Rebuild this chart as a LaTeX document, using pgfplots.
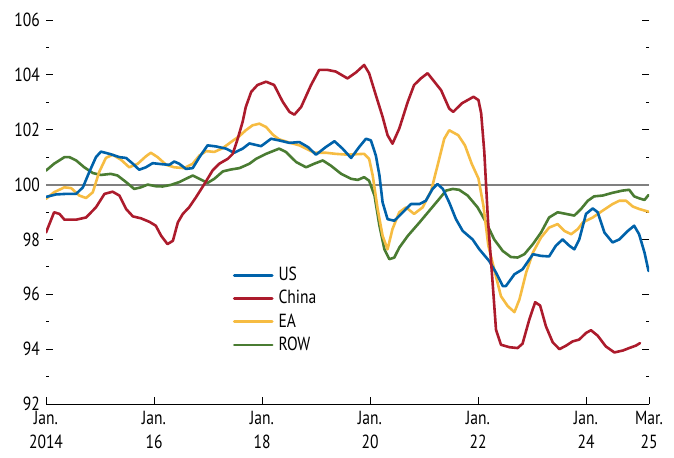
\documentclass[border=0pt]{standalone}
\usepackage{fontspec}
\setmainfont{PT Sans}[FakeStretch=0.82]
\usepackage{pgfplots}
\usepackage{pgfplotstable}
\pgfplotsset{compat=1.18}
\definecolor{usblue}{RGB}{0,98,170}
\definecolor{cnred}{RGB}{172,27,44}
\definecolor{eayellow}{RGB}{246,188,66}
\definecolor{rowgreen}{RGB}{74,124,50}
\definecolor{refgray}{RGB}{128,128,128}

% x = months since Jan. 2014
\pgfplotstableread{
m v
0 99.55
2.2 99.64
4.4 99.66
6.7 99.66
8.2 99.9
9.6 100.45
11.1 101.0
12.2 101.2
14.1 101.12
16.3 101.0
17.8 100.97
19.3 100.76
20.7 100.54
22.2 100.63
23.7 100.78
25.9 100.74
27.4 100.72
28.5 100.84
29.6 100.76
31.1 100.57
32.6 100.6
34.1 101.0
35.9 101.43
37.8 101.39
40.0 101.31
41.8 101.16
43.7 101.31
45.2 101.5
47.8 101.4
50.0 101.67
51.8 101.61
54.1 101.52
56.3 101.55
58.2 101.37
60.0 101.09
62.2 101.37
64.1 101.58
65.9 101.31
67.8 100.97
69.6 101.37
71.1 101.67
72.2 101.61
73.3 101.06
74.1 100.33
74.8 99.35
75.9 98.74
77.4 98.68
79.3 98.99
81.1 99.29
83.0 99.29
84.4 99.41
85.9 99.84
87.0 100.02
88.2 99.84
89.6 99.35
91.1 98.74
92.6 98.31
94.8 98.0
96.3 97.64
98.5 97.21
100.0 96.79
101.5 96.3
102.2 96.3
104.1 96.73
105.9 96.91
108.2 97.46
110.0 97.4
111.8 97.38
113.3 97.77
114.8 98.0
116.3 97.77
117.4 97.64
118.5 98.0
120.0 98.93
121.5 99.13
122.6 98.99
124.1 98.25
125.9 97.89
127.4 98.0
129.3 98.31
130.7 98.5
131.8 98.19
133.0 97.52
133.9 96.85
}\us

\pgfplotstableread{
m v
0 98.25
1.8 98.99
3.0 98.93
4.1 98.72
6.7 98.72
8.9 98.8
11.1 99.17
13.0 99.66
14.8 99.74
16.3 99.6
17.8 99.11
19.3 98.84
21.1 98.77
23.0 98.64
24.4 98.5
25.6 98.13
27.0 97.83
28.2 97.95
29.3 98.62
30.4 98.93
31.8 99.17
33.3 99.53
35.2 100.02
37.0 100.51
38.5 100.76
40.4 100.94
41.5 101.12
42.6 101.67
43.7 102.29
44.4 102.83
45.6 103.38
47.0 103.63
48.9 103.75
50.7 103.63
52.6 103.02
54.1 102.65
55.2 102.55
56.7 102.83
58.9 103.63
60.7 104.18
62.6 104.18
64.4 104.12
67.0 103.87
68.9 104.09
70.7 104.36
71.8 104.06
73.3 103.26
74.8 102.47
75.9 101.8
77.0 101.49
78.5 102.04
80.4 103.02
81.8 103.63
83.3 103.87
84.8 104.06
86.3 103.75
87.8 103.44
89.6 102.77
90.5 102.65
92.4 102.96
95.0 103.2
96.1 103.08
96.7 102.6
97.4 101.19
98.2 98.74
99.3 96.3
100.0 94.71
101.1 94.16
103.0 94.07
104.8 94.04
105.9 94.2
107.4 95.08
108.7 95.71
109.8 95.59
111.1 94.83
112.6 94.25
114.1 94.0
115.6 94.13
117.0 94.28
118.5 94.35
120.0 94.59
121.1 94.69
122.6 94.49
124.4 94.1
126.3 93.88
128.2 93.95
129.6 94.04
131.1 94.13
132.0 94.22
}\china

\pgfplotstableread{
m v
0 99.48
1.8 99.72
4.1 99.9
5.6 99.87
7.4 99.6
8.9 99.51
10.4 99.72
11.8 100.45
13.3 100.97
14.8 101.09
16.7 100.9
18.5 100.63
20.4 100.76
22.2 101.03
23.3 101.16
24.8 101.0
26.7 100.72
28.5 100.63
30.7 100.6
32.6 100.76
34.1 101.06
35.6 101.22
37.4 101.19
39.3 101.33
41.1 101.55
43.0 101.77
44.4 101.98
45.9 102.16
47.4 102.22
48.9 102.1
50.4 101.82
51.8 101.65
54.1 101.53
56.3 101.43
57.8 101.31
59.6 101.16
62.2 101.16
64.4 101.12
67.0 101.09
69.3 101.11
70.7 101.12
71.8 100.94
72.6 100.33
73.7 99.11
74.8 98.13
75.9 97.64
77.0 98.38
78.5 98.99
80.0 99.17
81.8 98.93
83.7 99.17
85.6 99.78
87.0 100.69
88.5 101.67
89.6 101.98
91.6 101.8
93.1 101.43
94.6 100.76
96.1 100.22
97.2 99.23
98.3 97.77
99.6 96.91
101.1 95.93
102.6 95.57
104.1 95.35
105.2 95.81
106.7 96.79
108.2 97.52
110.0 98.07
111.8 98.43
113.7 98.56
115.2 98.31
116.7 98.19
118.2 98.38
119.3 98.62
121.5 98.8
123.7 99.05
125.9 99.29
127.4 99.41
128.9 99.41
130.4 99.2
131.8 99.11
133.9 99.01
}\ea

\pgfplotstableread{
m v
0 100.51
1.8 100.76
4.1 101.0
5.2 101.0
6.7 100.88
8.5 100.63
10.4 100.42
12.2 100.35
14.4 100.39
15.9 100.33
17.8 100.09
19.6 99.84
21.1 99.9
22.6 100.0
24.4 99.94
25.9 99.93
27.8 99.99
29.6 100.09
31.1 100.21
32.6 100.33
34.1 100.21
35.9 100.06
37.4 100.21
39.3 100.48
41.1 100.55
43.0 100.6
45.2 100.76
46.7 100.94
48.9 101.12
51.8 101.31
53.3 101.19
55.6 100.82
57.8 100.63
59.6 100.76
61.5 100.88
63.3 100.69
65.6 100.39
67.8 100.21
69.3 100.17
70.7 100.27
71.8 100.14
73.0 99.6
74.1 98.5
75.2 97.64
76.3 97.28
77.4 97.34
78.5 97.7
80.4 98.13
83.0 98.62
85.2 99.05
87.4 99.48
88.9 99.78
90.4 99.84
91.8 99.81
93.7 99.6
95.9 99.17
97.8 98.62
99.6 98.0
101.5 97.58
103.3 97.36
104.8 97.34
106.3 97.46
108.2 97.83
110.0 98.25
111.8 98.8
113.7 98.99
115.6 98.93
117.4 98.87
118.9 99.11
120.4 99.41
121.8 99.57
123.7 99.6
125.9 99.7
128.1 99.78
129.6 99.81
130.7 99.57
131.8 99.5
133.0 99.44
133.9 99.62
}\row

\begin{document}
\fontsize{19bp}{23bp}\selectfont
\begin{tikzpicture}
\useasboundingbox (-46bp,-54bp) rectangle (628bp,404bp);
\begin{axis}[
  scale only axis, width=603bp, height=384bp,
  at={(0,0)}, anchor=south west,
  xmin=0, xmax=134, ymin=92, ymax=106,
  axis x line*=bottom,
  separate axis lines,
  y axis line style={draw=none},
  x axis line style={black, line width=0.8bp},
  xtick={0,24,48,72,96,120,134},
  xticklabels={{Jan.\\2014},{Jan.\\16},{Jan.\\18},{Jan.\\20},{Jan.\\22},{Jan.\\24},{Mar.\\25}},
  x tick label style={align=center, font=\fontsize{19bp}{24bp}\selectfont, inner sep=3bp, yshift=-4bp},
  y tick label style={font=\fontsize{19bp}{23bp}\selectfont, inner sep=0pt, xshift=-6bp},
  ytick={92,94,...,106},
  minor ytick={93,95,...,105},
  tick align=inside,
  major tick length=7bp, minor tick length=3.5bp,
  tick style={black, line width=0.8bp},
  /pgf/number format/assume math mode=true,
  legend style={draw=none, fill=none, at={(axis cs:41.5,97.12)}, anchor=north west,
    inner sep=0pt, row sep=0pt, font=\fontsize{19bp}{23bp}\selectfont,
    nodes={inner sep=3bp, text height=14bp, text depth=3.2bp}},
  legend cell align=left,
  /tikz/every odd column/.append style={column sep=2bp},
  legend image code/.code={\draw[#1, line width=2.6bp] (0bp,0bp) -- (38bp,0bp);},
  every axis plot/.append style={line width=2.6bp, line join=round, line cap=round},
]
\addlegendimage{usblue}\addlegendentry{US}
\addlegendimage{cnred}\addlegendentry{China}
\addlegendimage{eayellow}\addlegendentry{EA}
\addlegendimage{rowgreen}\addlegendentry{ROW}
\addplot[forget plot, refgray, line width=2bp, line cap=butt] coordinates {(0,100) (134,100)};
\addplot[forget plot, rowgreen] table[x=m, y=v] {\row};
\addplot[forget plot, eayellow] table[x=m, y=v] {\ea};
\addplot[forget plot, usblue] table[x=m, y=v] {\us};
\addplot[forget plot, cnred] table[x=m, y=v] {\china};
\end{axis}
\end{tikzpicture}
\end{document}
